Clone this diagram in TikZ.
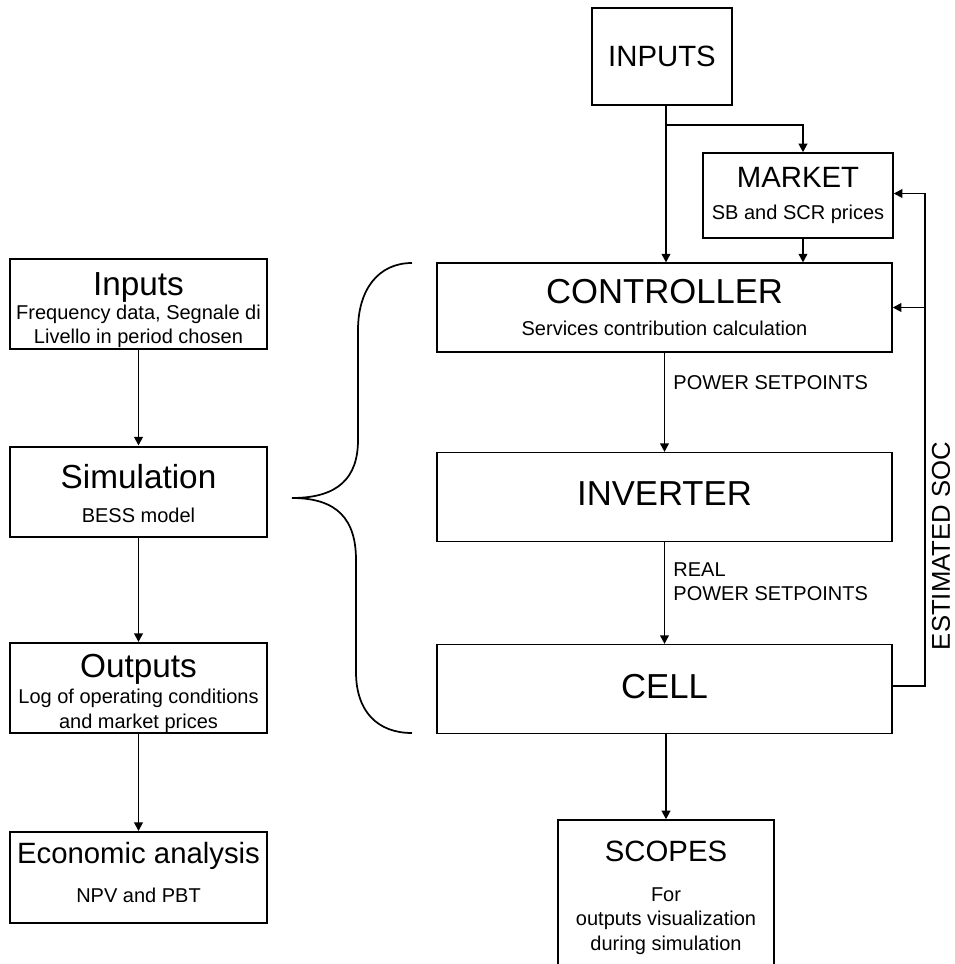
\documentclass[tikz,border=0pt]{standalone}
\usepackage{fontspec}
\setmainfont{Liberation Sans}
\usetikzlibrary{positioning,arrows.meta,calc}
\setlength{\lineskiplimit}{-\maxdimen}
\newcommand{\tgrande}{\fontsize{26}{26}\selectfont}
\newcommand{\tmedio}{\fontsize{22}{22}\selectfont}
\newcommand{\tizq}{\fontsize{25}{25}\selectfont}
\newcommand{\tsub}{\fontsize{15}{18}\selectfont}

\begin{document}
\begin{tikzpicture}[x=0.75pt, y=-0.75pt, every node/.style={font=\tsub, align=center, inner sep=0pt},
  caja/.style={draw, line width=1.1pt},
  bloque/.style={caja, minimum width=341.25pt, minimum height=66.5pt},
  izq/.style={draw, line width=1.5pt, minimum width=192.75pt, minimum height=67.5pt},
  flecha/.style={-{Triangle[length=6.5pt, width=6.5pt]}, line width=1.4pt},
  etiqueta/.style={align=left},
  llave/.style={line width=1.3pt}]
\useasboundingbox (0,0) rectangle (954,964);
\clip (0,0) rectangle (954,964);
% columna izquierda
\node[izq] (in) at (138.5,304) {{\tizq\rule{0pt}{27pt}Inputs}\\Frequency data, Segnale di\\Livello in period chosen};
\node[izq] (sim) at (138.5,491.5) {{\tizq\rule{0pt}{21pt}Simulation}\\[8pt]BESS model};
\node[izq] (out) at (138.5,688) {{\tizq\rule{0pt}{26pt}Outputs}\\[1pt]Log of operating conditions\\[1pt]and market prices};
\node[izq, minimum height=68.25pt] (eco) at (138.5,877.5) {{\tmedio Economic analysis}\\[11pt]NPV and PBT\rule[-7.5pt]{0pt}{0pt}};
\draw[flecha] (in) -- (sim); \draw[flecha] (sim) -- (out); \draw[flecha] (out) -- (eco);
% modelo
\node[caja, minimum width=105pt, minimum height=72.75pt] (inp) at (662,56.5) {\tmedio INPUTS};
\node[caja, minimum width=142.5pt, minimum height=63.75pt] (mkt) at (798,195.5) {{\tmedio MARKET}\\[6pt]SB and SCR prices};
\node[bloque] (ctrl) at (664.5,307.5) {{\tgrande CONTROLLER}\\[6pt]Services contribution calculation};
\node[bloque] (inv) at (664.5,497) {\tgrande INVERTER\rule[-5pt]{0pt}{0pt}};
\node[bloque] (cell) at (664.5,689) {\tgrande CELL\rule[-4pt]{0pt}{0pt}};
\node[caja, minimum width=162pt, minimum height=116.25pt] (scp) at (666,897.5) {{\tmedio SCOPES}\\[12pt]For\\outputs visualization\\[1pt]during simulation};
\node[rotate=90, font=\fontsize{19.3}{19.3}\selectfont] (soc) at (941,546) {ESTIMATED SOC};
\coordinate (bajada) at ($(inp.south)+(4,0)$);
\coordinate (rama) at ($(bajada)+(0,19)$);
\coordinate (mk) at ($(mkt.south)+(5,0)$);
\coordinate (fb) at ($(cell.east)+(32,-3)$);
\draw[flecha] (bajada) -- (bajada |- ctrl.north);
\draw[flecha] (rama) -| (mk |- mkt.north); \draw[flecha] (mk) -- (mk |- ctrl.north);
\draw[flecha] (ctrl) -- node[etiqueta, pos=0.3, right=6pt] {POWER SETPOINTS} (inv);
\draw[flecha] (inv) -- node[etiqueta, pos=0.39, right=6pt] {REAL\\POWER SETPOINTS} (cell);
\draw[flecha] (cell.south -| scp.north) -- (scp.north);
\draw[flecha] (fb -| cell.east) -- (fb) |- ($(mkt.east)+(0,-2)$);
\draw[flecha] (fb |- ctrl.east) -- (ctrl.east);
% llave
\draw[llave] (412,263) .. controls (378,263) and (358,290) .. (358,330) -- (358,440) .. controls (358,478) and (338,498) .. (292,498);
\draw[llave] (292,498) .. controls (338,498) and (356,520) .. (356,560) -- (356,672) .. controls (356,712) and (378,733) .. (412,733);
\end{tikzpicture}
\end{document}
